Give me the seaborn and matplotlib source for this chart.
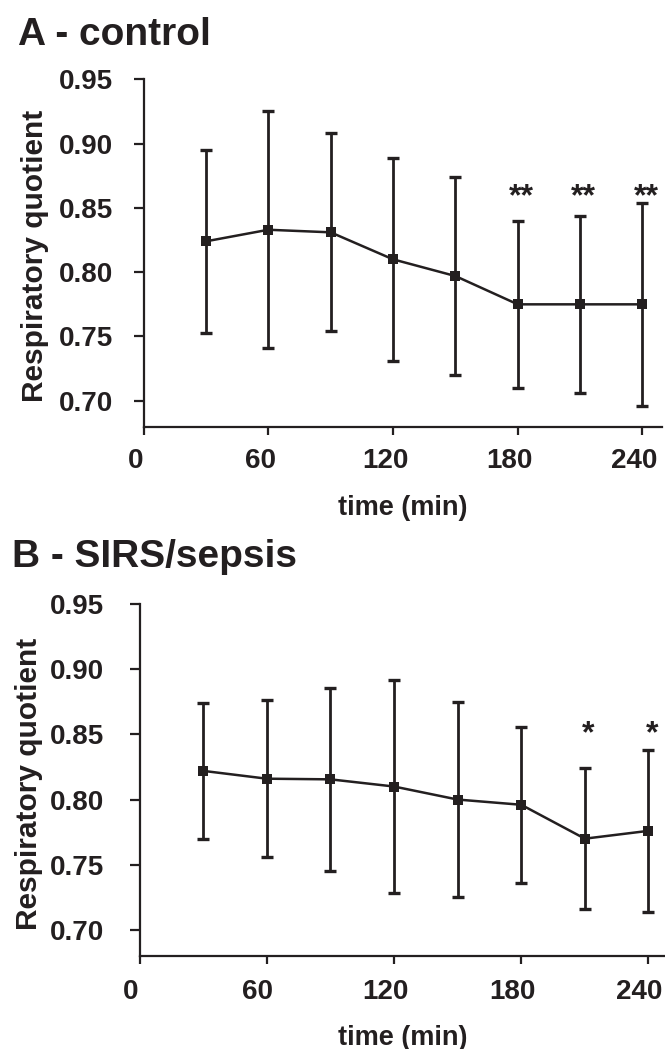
import matplotlib
matplotlib.use("Agg")
import matplotlib.pyplot as plt
import matplotlib.transforms as mtransforms
import seaborn as sns
import numpy as np
import pandas as pd

# ---- data ----
time_min = [30, 60, 90, 120, 150, 180, 210, 240]

control_mean = [0.824, 0.833, 0.831, 0.810, 0.797, 0.775, 0.775, 0.775]
control_sd = [0.071, 0.092, 0.077, 0.079, 0.077, 0.065, 0.069, 0.079]
control_sig = ["", "", "", "", "", "**", "**", "**"]
control_sig_y = 0.8665

sepsis_mean = [0.822, 0.816, 0.8155, 0.810, 0.800, 0.796, 0.770, 0.776]
sepsis_sd = [0.052, 0.060, 0.070, 0.082, 0.075, 0.060, 0.054, 0.062]
sepsis_sig = ["", "", "", "", "", "", "*", "*"]
sepsis_sig_y = 0.858

x_ticks = [0, 60, 120, 180, 240]
y_ticks = [0.70, 0.75, 0.80, 0.85, 0.90, 0.95]
y_tick_labels = ["0.70", "0.75", "0.80", "0.85", "0.90", "0.95"]

titles = ["A - control", "B - SIRS/sepsis"]
ylabel = "Respiratory quotient"
xlabel = "time (min)"

# ---- style ----
sns.set_theme(style="ticks")
plt.rcParams["font.family"] = ["Liberation Sans", "DejaVu Sans"]
plt.rcParams["font.weight"] = "bold"
INK = "#231f20"

W, H = 665, 1049
fig = plt.figure(figsize=(W / 100, H / 100), dpi=100)
fig.patch.set_facecolor("white")

panels = [
    dict(rect=[143.6 / W, 1 - 426.5 / H, (662 - 143.6) / W, (426.5 - 79.3) / H],
         xmax=249.4, mean=control_mean, sd=control_sd, sig=control_sig,
         sig_y=control_sig_y, ypad=14.8, xpad=9.5, ylab_x=-0.2095,
         xlab_y=-0.197, xshift=-8, title=titles[0], title_xy=(18, 45)),
    dict(rect=[139.6 / W, 1 - 956 / H, (665 - 139.6) / W, (956 - 604) / H],
         xmax=247.8, mean=sepsis_mean, sd=sepsis_sd, sig=sepsis_sig,
         sig_y=sepsis_sig_y, ypad=18.7, xpad=10.5, ylab_x=-0.2105,
         xlab_y=-0.196, xshift=-9, title=titles[1], title_xy=(12, 567)),
]

for p in panels:
    ax = fig.add_axes(p["rect"])
    ax.set_facecolor("white")
    df = pd.DataFrame({"time": time_min, "rq": p["mean"]})
    ax.errorbar(time_min, p["mean"], yerr=p["sd"], fmt="none", ecolor=INK,
                elinewidth=2.0, capsize=4.6, capthick=2.4, zorder=2)
    sns.lineplot(data=df, x="time", y="rq", ax=ax, color=INK, linewidth=1.8,
                 marker="s", markersize=6.8, markeredgewidth=0,
                 markerfacecolor=INK, zorder=3)
    for t, s in zip(time_min, p["sig"]):
        if s:
            ax.annotate(s, xy=(t, p["sig_y"]), xytext=(2.5, -0.58 * 23),
                        textcoords="offset points", ha="center", va="baseline",
                        fontsize=23, fontweight="bold", color=INK)
    ax.set_xlim(0, p["xmax"])
    ax.set_ylim(0.68, 0.95)
    ax.set_xticks(x_ticks)
    ax.set_xticklabels([str(v) for v in x_ticks])
    ax.set_yticks(y_ticks)
    ax.set_yticklabels(y_tick_labels)
    for sp in ["top", "right"]:
        ax.spines[sp].set_visible(False)
    for sp in ["left", "bottom"]:
        ax.spines[sp].set_linewidth(1.6)
        ax.spines[sp].set_color(INK)
    ax.tick_params(axis="y", direction="out", length=7.2, width=1.6,
                   colors=INK, labelsize=20, pad=p["ypad"])
    ax.tick_params(axis="x", direction="out", length=6.0, width=1.6,
                   colors=INK, labelsize=20, pad=p["xpad"])
    shift = mtransforms.ScaledTranslation(p["xshift"] / 100, 0, fig.dpi_scale_trans)
    for tick in ax.xaxis.get_major_ticks():
        tick.label1.set_transform(tick.label1.get_transform() + shift)
        tick.label1.set_fontweight("bold")
    for lab in ax.get_yticklabels():
        lab.set_fontweight("bold")
    ax.set_ylabel(ylabel, fontsize=21.5, fontweight="bold", color=INK, va="center")
    ax.yaxis.set_label_coords(p["ylab_x"], 0.49)
    ax.set_xlabel(xlabel, fontsize=19.5, fontweight="bold", color=INK, va="top")
    ax.xaxis.set_label_coords(0.5, p["xlab_y"])
    tx, ty = p["title_xy"]
    fig.text(tx / W, 1 - ty / H, p["title"], fontsize=28, fontweight="bold",
             color=INK, ha="left", va="baseline")

fig.savefig("out.png", dpi=100, facecolor="white")
